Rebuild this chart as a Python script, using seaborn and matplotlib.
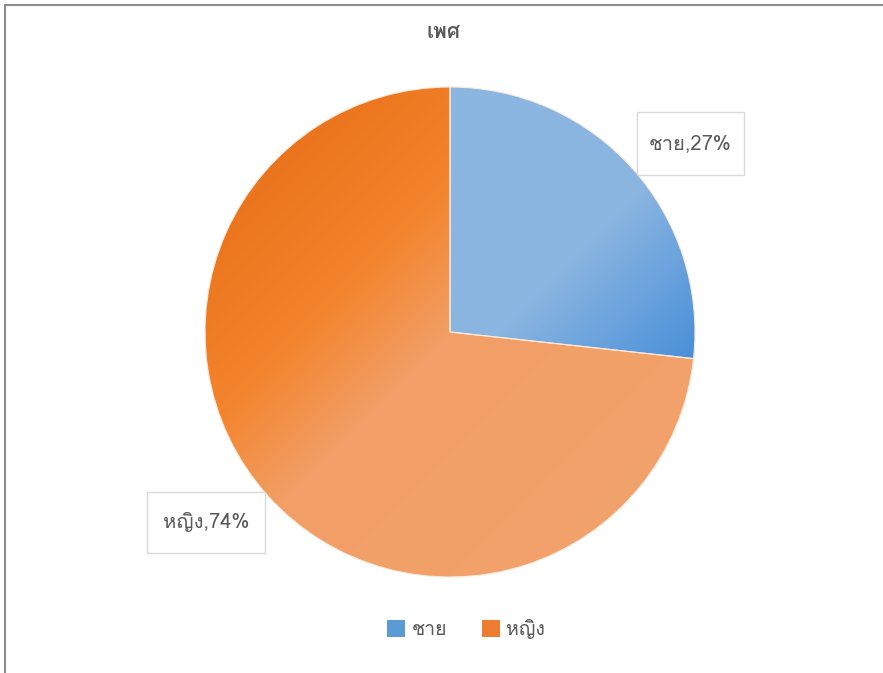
import matplotlib
matplotlib.use("Agg")
import matplotlib.pyplot as plt
import numpy as np
import seaborn as sns
from matplotlib import font_manager
from matplotlib.colors import LinearSegmentedColormap
from matplotlib.patches import Patch, Rectangle
from matplotlib.ft2font import FT2Font

title = "เพศ"
genders = ["ชาย", "หญิง"]
percents = [27, 74]
base_colors = ["#5B9BD5", "#ED7D31"]


def find_thai_font():
    """Pick the first installed font that has Thai glyphs."""
    seen = set()
    for entry in font_manager.fontManager.ttflist:
        if entry.fname in seen:
            continue
        seen.add(entry.fname)
        try:
            cmap = FT2Font(entry.fname).get_charmap()
        except Exception:
            continue
        if all(ord(c) in cmap for c in "ชายหญิงเพศ"):
            return entry.name
    return None


sns.set_theme(style="white")
thai = find_thai_font()
plt.rcParams["font.family"] = ([thai] if thai else []) + ["DejaVu Sans"]

W, H = 883, 673
fig = plt.figure(figsize=(W / 100, H / 100), dpi=100)
fig.patch.set_facecolor("white")

# pie area: centre (450, 332) px from top-left, radius 245 px
cx, cy, r = 450, 332, 245
ax = fig.add_axes([(cx - r) / W, (H - cy - r) / H, 2 * r / W, 2 * r / H])
wedges, _ = ax.pie(percents, colors=base_colors, startangle=90, counterclock=False,
                   radius=1, wedgeprops=dict(edgecolor="#FBE9DC", linewidth=0.8))
ax.set_xlim(-1, 1)
ax.set_ylim(-1, 1)
ax.set_aspect("equal")
ax.axis("off")

# Office-style gradient fills along the top-left -> bottom-right diagonal
xs = np.linspace(-1, 1, 400)
gx, gy = np.meshgrid(xs, xs[::-1])
s = (gx - gy) / 2
grad_maps = [
    LinearSegmentedColormap.from_list("blue", [(0, "#8DB8E3"), (0.55, "#8AB5E1"), (0.66, "#6AA3DE"), (0.78, "#4A8FD8"), (1, "#4389D6")]),
    LinearSegmentedColormap.from_list("orange", [(0, "#E06A18"), (0.18, "#EC771F"), (0.35, "#F4842D"), (0.5, "#F19F66"), (1, "#F2A36C")]),
]
for wedge, cmap in zip(wedges, grad_maps):
    img = ax.imshow((s + 1) / 2, cmap=cmap, vmin=0, vmax=1, extent=(-1, 1, -1, 1),
                    origin="upper", zorder=wedge.get_zorder() + 0.1, interpolation="bilinear")
    img.set_clip_path(wedge)
for wedge in wedges:
    wedge.set_facecolor("none")
    wedge.set_zorder(5)

# data labels in boxes (centre and box size in pie-radius units)
label_pos = [(0.982, 0.769), (-0.996, -0.776)]
box_size = [(0.437, 0.257), (0.482, 0.249)]
for (lx, ly), (bw, bh), name, pct in zip(label_pos, box_size, genders, percents):
    ax.add_patch(Rectangle((lx - bw / 2, ly - bh / 2), bw, bh, facecolor="white",
                           edgecolor="#D9D9D9", linewidth=1, zorder=9, clip_on=False))
    ax.text(lx, ly, f"{name},{pct}%", ha="center", va="center", fontsize=14.5, color="#595959",
            zorder=10, clip_on=False)

fig.text(444 / W, 1 - 33 / H, title, ha="center", va="center", fontsize=15,
         fontweight="bold", color="#595959")

handles = [Patch(facecolor=c, edgecolor="none") for c in base_colors]
fig.legend(handles, genders, loc="center", bbox_to_anchor=(466 / W, 1 - 629 / H), ncol=2,
           frameon=False, fontsize=14, handlelength=0.95, handleheight=0.95, handletextpad=0.3,
           columnspacing=1.8, labelcolor="#595959")

# chart border (cropped at right/bottom)
fig.add_artist(Rectangle((5 / W, -0.1), 2, 1.1 - 5 / H, transform=fig.transFigure, fill=False,
                         edgecolor="#8C8C8C", linewidth=1.5))

fig.savefig("out.png", dpi=100)
